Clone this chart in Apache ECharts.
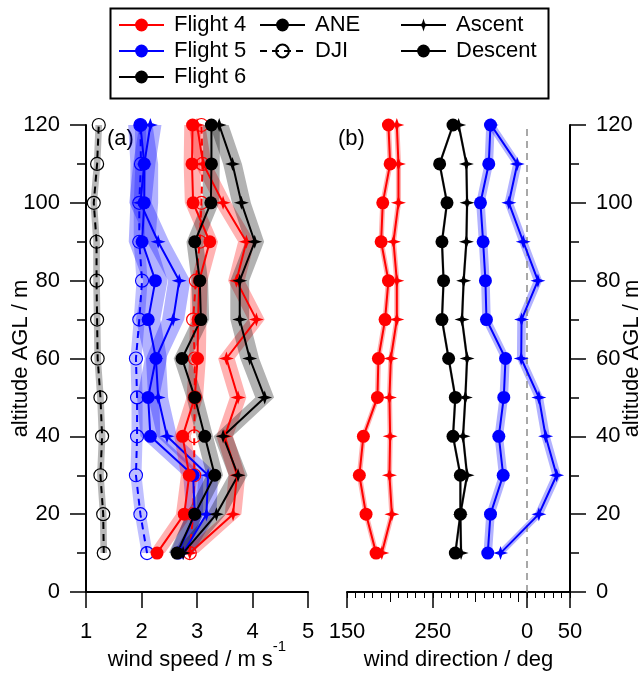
<!DOCTYPE html>
<html>
<head>
<meta charset="utf-8">
<title>wind profiles</title>
<script src="https://cdn.jsdelivr.net/npm/echarts@6/dist/echarts.min.js"></script>
<style>
  html, body { margin: 0; padding: 0; background: #fff; }
  #chart { width: 644px; height: 673px; }
</style>
</head>
<body>
<div id="chart"></div>
<script>
// altitude levels (m AGL), bottom to top
var altitude = [10, 20, 30, 40, 50, 60, 70, 80, 90, 100, 110, 120];

// (a) wind speed, m/s  -- ANE ascent / descent per flight, plus DJI
var f4SpeedAsc  = [2.87, 3.65, 3.72, 3.50, 3.74, 3.53, 4.07, 3.71, 3.89, 3.47, 3.11, 3.00];
var f4SpeedDesc = [2.28, 2.77, 2.86, 2.74, 2.96, 3.01, 3.02, 3.04, 3.23, 2.93, 2.91, 2.92];
var f5SpeedAsc  = [2.75, 3.17, 3.20, 2.46, 2.30, 2.26, 2.57, 2.68, 2.30, 1.98, 2.05, 2.16];
var f5SpeedDesc = [2.66, 2.96, 2.93, 2.16, 2.12, 2.26, 2.12, 2.25, 2.01, 2.05, 2.05, 1.98];
var f6SpeedAsc  = [2.75, 3.35, 3.74, 3.47, 4.22, 3.95, 3.77, 3.77, 4.04, 3.80, 3.64, 3.40];
var f6SpeedDesc = [2.64, 2.96, 3.32, 3.14, 2.96, 2.73, 3.07, 3.05, 2.96, 3.25, 3.26, 3.26];
var f4SpeedDji  = [2.87, 2.93, 2.95, 2.95, 2.96, 2.96, 2.93, 2.98, 3.05, 3.08, 3.10, 3.08];
var f5SpeedDji  = [2.10, 1.98, 1.90, 1.92, 1.92, 1.90, 1.96, 2.01, 1.96, 1.96, 1.99, 1.98];
var f6SpeedDji  = [1.32, 1.31, 1.26, 1.29, 1.26, 1.21, 1.20, 1.19, 1.19, 1.14, 1.20, 1.23];

// half widths of the shaded bands (m/s)
var f4SpeedAscErr  = [0.15, 0.15, 0.15, 0.15, 0.15, 0.15, 0.15, 0.15, 0.15, 0.15, 0.15, 0.15];
var f4SpeedDescErr = [0.14, 0.15, 0.15, 0.15, 0.15, 0.15, 0.15, 0.15, 0.15, 0.15, 0.15, 0.15];
var f5SpeedAscErr  = [0.18, 0.18, 0.18, 0.18, 0.18, 0.18, 0.2, 0.2, 0.2, 0.2, 0.2, 0.2];
var f5SpeedDescErr = [0.15, 0.15, 0.18, 0.18, 0.2, 0.2, 0.22, 0.22, 0.24, 0.25, 0.25, 0.22];
var f6SpeedAscErr  = [0.17, 0.17, 0.17, 0.17, 0.17, 0.17, 0.17, 0.17, 0.17, 0.17, 0.17, 0.17];
var f6SpeedDescErr = [0.15, 0.15, 0.15, 0.15, 0.15, 0.15, 0.15, 0.15, 0.15, 0.15, 0.15, 0.15];
var f5SpeedDjiErr  = [0.1, 0.1, 0.1, 0.1, 0.1, 0.1, 0.1, 0.1, 0.1, 0.1, 0.1, 0.1];
var f6SpeedDjiErr  = [0.06, 0.06, 0.06, 0.06, 0.06, 0.06, 0.06, 0.06, 0.06, 0.06, 0.06, 0.06];

// (b) wind direction, deg (values past 360 are 0..50 on the axis)
var f4DirAsc  = [190.6, 202.3, 199.5, 200.3, 199.5, 201.1, 208.1, 208.1, 204.2, 210.0, 210.0, 208.1];
var f4DirDesc = [183.9, 172.2, 164.4, 169.1, 185.5, 186.6, 194.4, 198.3, 189.8, 191.7, 200.3, 198.3];
var f5DirAsc  = [329.0, 373.7, 394.4, 381.6, 373.7, 353.1, 353.5, 372.6, 355.5, 338.7, 348.5, 318.0];
var f5DirDesc = [314.1, 317.3, 332.1, 327.0, 332.8, 334.8, 312.6, 311.4, 308.7, 305.6, 315.3, 317.3];
var f6DirAsc  = [283.0, 282.2, 290.0, 285.3, 288.0, 290.0, 284.1, 286.0, 289.2, 290.0, 289.2, 280.2];
var f6DirDesc = [276.3, 282.2, 282.2, 273.6, 276.3, 268.5, 260.7, 262.6, 260.7, 266.6, 258.0, 273.6];

var f4DirErr = [3, 3, 3, 3, 3, 3, 3, 3, 3, 3, 3, 3];
var f5DirErr = [5, 5, 5, 5, 5, 5, 5, 5, 5, 5, 5, 5];
var f6DirErr = [1.5, 1.5, 1.5, 1.5, 1.5, 1.5, 1.5, 1.5, 1.5, 1.5, 1.5, 1.5];

var dirTicks = [150, 250, 360, 410];

var RED = '#ff0000', BLUE = '#0000ff', BLACK = '#000000';
var STAR = 'path://M0,-9L2.2,-2.2L9,0L2.2,2.2L0,9L-2.2,2.2L-9,0L-2.2,-2.2Z';
var FONT = 'Liberation Sans';

var chart = echarts.init(document.getElementById('chart'));

// shaded band: polygon between (v-err) and (v+err) at each altitude
function band(xi, yi, vals, errs, fill) {
    return {
        type: 'custom',
        xAxisIndex: xi,
        yAxisIndex: yi,
        silent: true,
        z: 1,
        data: [[vals[0], altitude[0]]],
        renderItem: function (params, api) {
            var lo = [], hi = [];
            for (var i = 0; i < altitude.length; i++) {
                lo.push(api.coord([vals[i] - errs[i], altitude[i]]));
                hi.push(api.coord([vals[i] + errs[i], altitude[i]]));
            }
            return {
                type: 'polygon',
                shape: { points: lo.concat(hi.reverse()) },
                style: { fill: fill }
            };
        }
    };
}

function profile(name, xi, yi, vals, color, kind) {
    var s = {
        name: name,
        type: 'line',
        xAxisIndex: xi,
        yAxisIndex: yi,
        data: vals.map(function (v, i) { return [v, altitude[i]]; }),
        color: color,
        lineStyle: { width: 2, color: color },
        symbol: 'circle',
        symbolSize: 13,
        z: 5
    };
    if (kind === 'asc') {
        s.symbol = STAR;
        s.symbolSize = [15, 14];
    } else if (kind === 'dji') {
        s.lineStyle.type = [7, 5];
        s.itemStyle = { color: 'rgba(255,255,255,0)', borderColor: color, borderWidth: 1.2 };
        s.z = 4;
    }
    return s;
}

function legendOnly(name, color, kind) {
    var s = profile(name, 1, 1, [], color, kind);
    s.data = [];
    return s;
}

var series = [
    // (a) bands
    band(0, 0, f6SpeedDji, f6SpeedDjiErr, 'rgba(0,0,0,0.28)'),
    band(0, 0, f5SpeedDji, f5SpeedDjiErr, 'rgba(0,0,255,0.25)'),
    band(0, 0, f5SpeedDesc, f5SpeedDescErr, 'rgba(0,0,255,0.3)'),
    band(0, 0, f5SpeedAsc, f5SpeedAscErr, 'rgba(0,0,255,0.3)'),
    band(0, 0, f4SpeedDesc, f4SpeedDescErr, 'rgba(255,0,0,0.3)'),
    band(0, 0, f4SpeedAsc, f4SpeedAscErr, 'rgba(255,0,0,0.3)'),
    band(0, 0, f6SpeedDesc, f6SpeedDescErr, 'rgba(0,0,0,0.3)'),
    band(0, 0, f6SpeedAsc, f6SpeedAscErr, 'rgba(0,0,0,0.3)'),
    // (a) profiles
    profile('F6 DJI', 0, 0, f6SpeedDji, BLACK, 'dji'),
    profile('F5 DJI', 0, 0, f5SpeedDji, BLUE, 'dji'),
    profile('F4 DJI', 0, 0, f4SpeedDji, RED, 'dji'),
    profile('F5 desc', 0, 0, f5SpeedDesc, BLUE, 'desc'),
    profile('F5 asc', 0, 0, f5SpeedAsc, BLUE, 'asc'),
    profile('F4 desc', 0, 0, f4SpeedDesc, RED, 'desc'),
    profile('F4 asc', 0, 0, f4SpeedAsc, RED, 'asc'),
    profile('F6 desc', 0, 0, f6SpeedDesc, BLACK, 'desc'),
    profile('F6 asc', 0, 0, f6SpeedAsc, BLACK, 'asc'),
    // (b) bands
    band(1, 1, f4DirDesc, f4DirErr, 'rgba(255,0,0,0.3)'),
    band(1, 1, f4DirAsc, f4DirErr, 'rgba(255,0,0,0.3)'),
    band(1, 1, f5DirDesc, f5DirErr, 'rgba(0,0,255,0.3)'),
    band(1, 1, f5DirAsc, f5DirErr, 'rgba(0,0,255,0.3)'),
    band(1, 1, f6DirDesc, f6DirErr, 'rgba(0,0,0,0.3)'),
    band(1, 1, f6DirAsc, f6DirErr, 'rgba(0,0,0,0.3)'),
    // (b) profiles
    profile('F4 dir desc', 1, 1, f4DirDesc, RED, 'desc'),
    profile('F4 dir asc', 1, 1, f4DirAsc, RED, 'asc'),
    profile('F6 dir desc', 1, 1, f6DirDesc, BLACK, 'desc'),
    profile('F6 dir asc', 1, 1, f6DirAsc, BLACK, 'asc'),
    profile('F5 dir desc', 1, 1, f5DirDesc, BLUE, 'desc'),
    profile('F5 dir asc', 1, 1, f5DirAsc, BLUE, 'asc'),
    // legend entries
    legendOnly('Flight 4', RED, 'desc'),
    legendOnly('Flight 5', BLUE, 'desc'),
    legendOnly('Flight 6', BLACK, 'desc'),
    legendOnly('ANE', BLACK, 'desc'),
    legendOnly('DJI', BLACK, 'dji'),
    legendOnly('Ascent', BLACK, 'asc'),
    legendOnly('Descent', BLACK, 'desc')
];

// zero-direction reference line in (b)
series[25].markLine = {
    silent: true,
    symbol: 'none',
    label: { show: false },
    lineStyle: { color: '#8c8c8c', type: [7, 5], width: 1.5 },
    data: [{ xAxis: 360 }]
};

var axisLineStyle = { color: '#000', width: 2 };
var tickStyle = { color: '#000', width: 1.5 };
var labelStyle = { fontSize: 22, color: '#000', fontFamily: FONT };

function altAxis(gi, pos) {
    return {
        type: 'value',
        gridIndex: gi,
        position: pos,
        min: 0,
        max: 120,
        interval: 20,
        axisLine: { show: true, lineStyle: axisLineStyle },
        axisTick: { show: true, length: 16, lineStyle: tickStyle },
        minorTick: { show: true, splitNumber: 2, length: 9, lineStyle: tickStyle },
        axisLabel: Object.assign({ margin: 26 }, labelStyle),
        splitLine: { show: false },
        name: 'altitude AGL / m',
        nameLocation: 'middle',
        nameRotate: 90,
        nameMoveOverlap: false,
        nameGap: pos === 'left' ? 54 : 51,
        nameTextStyle: labelStyle
    };
}

var legendText = { fontSize: 22, color: '#000', fontFamily: FONT, padding: [0, 0, 0, 5], lineHeight: 22 };
function legendBlock(names, left) {
    return {
        data: names,
        orient: 'vertical',
        left: left,
        top: 14,
        padding: 0,
        itemWidth: 45,
        itemHeight: 16,
        itemGap: 4,
        selectedMode: false,
        textStyle: legendText
    };
}

chart.setOption({
    animation: false,
    backgroundColor: '#fff',
    textStyle: { fontFamily: FONT },
    grid: [
        { left: 86, right: 336, top: 125, bottom: 81, outerBoundsMode: 'none' },
        { left: 347, right: 74, top: 125, bottom: 81, outerBoundsMode: 'none' }
    ],
    legend: [
        legendBlock(['Flight 4', 'Flight 5', 'Flight 6'], 118),
        legendBlock(['ANE', 'DJI'], 259),
        legendBlock(['Ascent', 'Descent'], 400)
    ],
    xAxis: [
        {
            type: 'value',
            gridIndex: 0,
            position: 'bottom',
            min: 1,
            max: 5,
            interval: 1,
            axisLine: { show: true, lineStyle: axisLineStyle },
            axisTick: { show: true, length: 16, lineStyle: tickStyle },
            axisLabel: Object.assign({ margin: 29 }, labelStyle),
            splitLine: { show: false },
            name: '{a|wind speed / m s}{b|-1}',
            nameLocation: 'middle',
            nameMoveOverlap: false,
            nameGap: 47,
            nameTextStyle: {
                rich: {
                    a: { fontSize: 22, color: '#000', fontFamily: FONT, lineHeight: 42 },
                    b: { fontSize: 15, color: '#000', fontFamily: FONT, lineHeight: 16, verticalAlign: 'top' }
                }
            }
        },
        {
            type: 'value',
            gridIndex: 1,
            position: 'bottom',
            min: 150,
            max: 410,
            axisLine: { show: true, lineStyle: axisLineStyle },
            axisTick: { show: true, length: 16, lineStyle: tickStyle, customValues: dirTicks },
            axisLabel: Object.assign({
                margin: 29,
                customValues: dirTicks,
                formatter: function (v) { return v >= 360 ? String(v - 360) : String(v); }
            }, labelStyle),
            splitLine: { show: false },
            name: 'wind direction / deg',
            nameLocation: 'middle',
            nameMoveOverlap: false,
            nameGap: 57,
            nameTextStyle: labelStyle
        },
        {
            // 10 deg minor ticks
            type: 'value',
            gridIndex: 1,
            position: 'bottom',
            offset: 0,
            min: 150,
            max: 410,
            interval: 10,
            axisLine: { show: false },
            axisTick: { show: true, length: 6, lineStyle: { color: '#000', width: 1 } },
            axisLabel: { show: false },
            splitLine: { show: false }
        },
        {
            // 50 deg mid ticks
            type: 'value',
            gridIndex: 1,
            position: 'bottom',
            offset: 0,
            min: 150,
            max: 410,
            axisLine: { show: false },
            axisTick: { show: true, length: 10, lineStyle: { color: '#000', width: 1 }, customValues: [200, 300, 350] },
            axisLabel: { show: false },
            splitLine: { show: false }
        }
    ],
    yAxis: [altAxis(0, 'left'), altAxis(1, 'right')],
    graphic: [
        { type: 'rect', left: 108, top: 6, shape: { width: 438, height: 90 }, style: { fill: 'none', stroke: '#000', lineWidth: 2 } },
        { type: 'text', left: 107, top: 128, style: { text: '(a)', font: '22px "Liberation Sans"', fill: '#000' } },
        { type: 'text', left: 338, top: 128, style: { text: '(b)', font: '22px "Liberation Sans"', fill: '#000' } }
    ],
    series: series
});
</script>
</body>
</html>
